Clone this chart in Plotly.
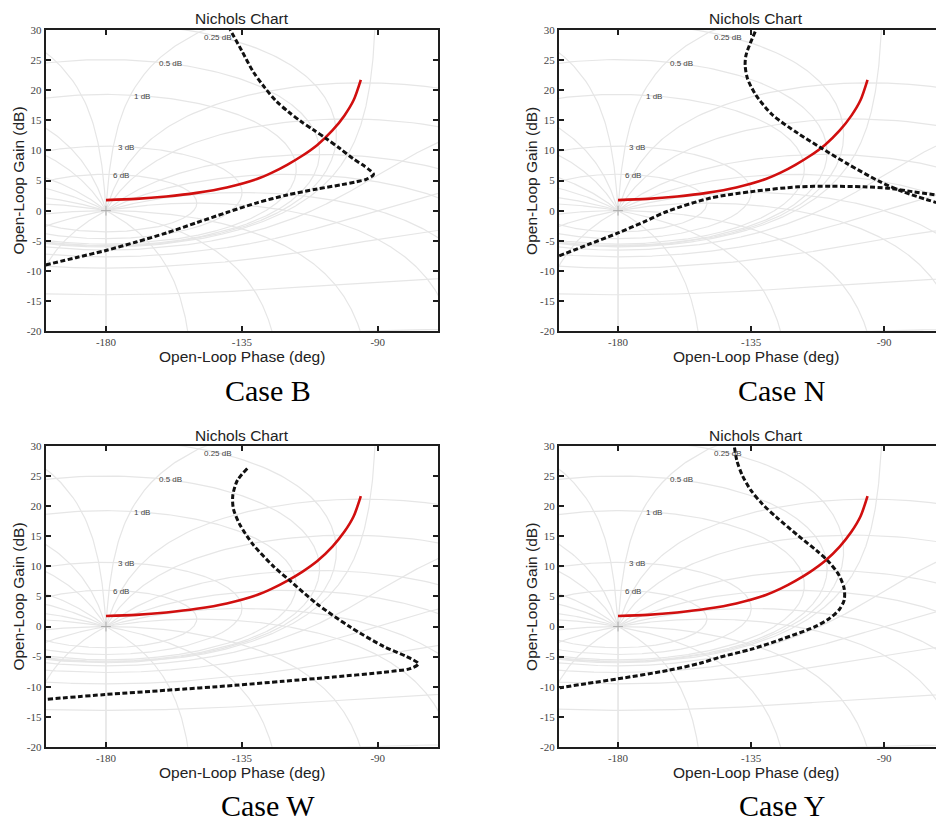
import numpy as np
import plotly.graph_objects as go

# The page body has an 8px margin: the figure is sized to fit exactly inside the window.
OFF = 8
W, H = 944 - 2 * OFF, 831 - 2 * OFF

# ---------------- data ----------------
# red curve (identical in all four panels)
red_phase = [-180, -170, -160, -150, -140, -130, -125, -120, -115, -110, -105, -101, -98, -95.6]
red_gain = [1.75, 1.95, 2.35, 2.95, 3.85, 5.25, 6.3, 7.6, 9.1, 10.9, 13.3, 15.8, 18.3, 21.7]

# black dashed curves
caseB_phase = [-200, -190, -180, -170, -160, -150, -140, -130, -120, -110, -102, -97, -93.8, -91.4,
               -92.6, -95.0, -98.1, -102.5, -106.9, -111.3, -115.7, -119.6, -123.5, -127.4, -131.2,
               -135.0, -138.9]
caseB_gain = [-9.0, -7.8, -6.6, -5.2, -3.7, -2.0, -0.3, 1.3, 2.6, 3.6, 4.3, 4.8, 5.2, 6.0,
              6.7, 7.6, 8.6, 10.3, 11.9, 13.4, 14.9, 16.4, 18.1, 20.4, 23.0,
              26.5, 30.0]

caseN_phase = [-133.6, -136.7, -137.0, -136.2, -133.4, -127.9, -119.05, -111.3, -102.5, -91.4, -83.7, -72.4,
               None,
               -199.9, -190, -180, -171, -163.2, -149.1, -135, -119.1, -108, -97, -88.1, -80.4, -72.4]
caseN_gain = [29.7, 25.8, 24.1, 21.9, 19.2, 15.95, 12.8, 10.4, 7.8, 4.8, 3.15, 1.35,
              None,
              -7.5, -5.6, -3.7, -1.8, -0.1, 2.05, 3.15, 3.95, 4.05, 3.95, 3.7, 3.15, 2.6]

caseW_phase = [-133.2, -136.5, -138.0, -137.8, -135.6, -131.2, -124.6, -119.0, -110.2, -99.2, -88.1,
               -80.4, -76.5, -79.3, -88.1, -104.7, -121.3, -137.8, -159.9, -180, -199.7]
caseW_gain = [26.3, 24.3, 21.8, 19.6, 16.9, 13.6, 10.05, 7.6, 3.8, -0.05, -3.3,
              -5.0, -6.2, -7.0, -7.6, -8.4, -9.1, -9.8, -10.6, -11.3, -12.1]

caseY_phase = [-140.6, -139.8, -138.0, -135.1, -131.2, -126.2, -119.0, -113.0, -108.6, -105.2, -103.5,
               -103.5, -105.2, -108.6, -113.5, -124.6, -135.1, -145.6, -152.2, -163.2, -180, -190.8,
               -199.7]
caseY_gain = [29.8, 27.6, 25.2, 22.7, 20.4, 18.1, 15.1, 12.7, 10.7, 8.5, 6.3,
              4.4, 2.8, 1.3, -0.05, -2.1, -3.8, -5.1, -6.1, -7.3, -8.7, -9.5,
              -10.2]

case_names = ["Case B", "Case N", "Case W", "Case Y"]

# Nichols grid definition
grid_gain_db = [6, 3, 1, 0.5, 0.25, 0, -1, -3, -6, -12, -20]
grid_phase_deg = [-1, -5, -10, -20, -30, -45, -60, -90, -120, -150, -180]
grid_labels = ["0.25 dB", "0.5 dB", "1 dB", "3 dB", "6 dB"]
grid_label_phase = [-148.3, -163.2, -171.3, -176.8, -178.4]
grid_label_gain = [28.8, 24.4, 19.0, 10.55, 5.9]

x_ticks = [-180, -135, -90]
y_ticks = [-20, -15, -10, -5, 0, 5, 10, 15, 20, 25, 30]


# ---------------- Nichols grid geometry ----------------
def _wrap(ph):
    return np.where(ph > 0, ph - 360.0, ph)


def _append(xs, ys, ph, g):
    for i in range(len(ph)):
        if i > 0 and abs(ph[i] - ph[i - 1]) > 90:
            xs.append(None)
            ys.append(None)
        xs.append(float(ph[i]))
        ys.append(float(g[i]))
    xs.append(None)
    ys.append(None)


def nichols_grid():
    xs, ys = [], []
    n = 2400
    th = -np.pi + (np.arange(n) + 0.5) * 2 * np.pi / n
    th = np.append(th, th[0])
    for gdb in grid_gain_db:
        m = 10 ** (gdb / 20.0)
        T = m * np.exp(1j * th)
        G = T / (1 - T)
        ph = _wrap(np.degrees(np.angle(G)))
        g = np.clip(20 * np.log10(np.abs(G)), -60, 60)
        _append(xs, ys, ph, g)
    mm = np.logspace(-4, 4, 1600)
    for p in grid_phase_deg:
        T = mm * np.exp(1j * np.radians(p))
        G = T / (1 - T)
        ph = _wrap(np.degrees(np.angle(G)))
        g = np.clip(20 * np.log10(np.abs(G)), -60, 60)
        _append(xs, ys, ph, g)
        _append(xs, ys, -360.0 - ph, g)
    return xs, ys


gx, gy = nichols_grid()


# ---------------- layout geometry (window pixels) ----------------
def PX(px):
    return (px - OFF) / W


def PY(py):
    return 1 - (py - OFF) / H


panels = [
    dict(x0=45.6, x1=438.1, y0=24, y1=330, xr=[-200, -70], full=True),
    dict(x0=558.9, x1=944, y0=24, y1=330, xr=[-200, -72.44], full=False),
    dict(x0=45.6, x1=438.1, y0=446.7, y1=751.7, xr=[-200, -70], full=True),
    dict(x0=558.9, x1=944, y0=446.7, y1=751.7, xr=[-200, -72.44], full=False),
]
black_curves = [(caseB_phase, caseB_gain), (caseN_phase, caseN_gain),
                (caseW_phase, caseW_gain), (caseY_phase, caseY_gain)]

fig = go.Figure()
annotations = []
frame = "#1e1e1e"
title_font = dict(family="Liberation Sans", size=15.5, color="#222")

for i, pnl in enumerate(panels):
    sfx = "" if i == 0 else str(i + 1)
    xa, ya = "x" + sfx, "y" + sfx
    # grid
    fig.add_trace(go.Scatter(x=gx, y=gy, xaxis=xa, yaxis=ya, mode="lines",
                             line=dict(color="#e6e6e6", width=1.2), hoverinfo="skip"))
    fig.add_trace(go.Scatter(x=[-180], y=[0], xaxis=xa, yaxis=ya, mode="markers",
                             marker=dict(symbol="cross-thin", size=7, line=dict(color="#aaaaaa", width=1)),
                             hoverinfo="skip"))
    # red curve
    fig.add_trace(go.Scatter(x=red_phase, y=red_gain, xaxis=xa, yaxis=ya, mode="lines",
                             line=dict(color="#d10f0f", width=2.6, shape="spline", smoothing=0.8)))
    # black dashed curve
    bp, bg = black_curves[i]
    fig.add_trace(go.Scatter(x=bp, y=bg, xaxis=xa, yaxis=ya, mode="lines", connectgaps=False,
                             line=dict(color="#111111", width=3, dash="5px,2.5px", shape="spline",
                                       smoothing=0.8)))

    common = dict(showgrid=False, zeroline=False, showline=True, linecolor=frame, linewidth=2,
                  ticks="inside", ticklen=5, tickwidth=1.5, tickcolor=frame,
                  tickfont=dict(family="Liberation Serif", size=11, color="#444"))
    fig.layout["xaxis" + sfx] = dict(
        common, domain=[PX(pnl["x0"]), min(1.0, PX(pnl["x1"]))], range=pnl["xr"], anchor=ya,
        tickvals=x_ticks, ticktext=[str(v) for v in x_ticks], mirror="ticks")
    fig.layout["yaxis" + sfx] = dict(
        common, domain=[PY(pnl["y1"]), PY(pnl["y0"])], range=[-20, 30], anchor=xa,
        tickvals=y_ticks, ticktext=[str(v) for v in y_ticks],
        mirror="ticks" if pnl["full"] else False)

    # grid labels
    for txt, lp, lg in zip(grid_labels, grid_label_phase, grid_label_gain):
        annotations.append(dict(x=lp, y=lg, xref=xa, yref=ya, text=txt, showarrow=False,
                                xanchor="left", yanchor="middle",
                                font=dict(family="Liberation Sans", size=8, color="#444")))

    cx = (pnl["x0"] + (pnl["x0"] + 393.5)) / 2
    cy = (pnl["y0"] + pnl["y1"]) / 2
    # title
    annotations.append(dict(x=PX(cx), y=PY(pnl["y0"] - 11), xref="paper", yref="paper",
                            text="Nichols Chart", showarrow=False, xanchor="center", yanchor="middle",
                            font=title_font))
    # x label
    annotations.append(dict(x=PX(cx), y=PY(pnl["y1"] + 26), xref="paper", yref="paper",
                            text="Open-Loop Phase (deg)", showarrow=False, xanchor="center",
                            yanchor="middle", font=title_font))
    # y label
    annotations.append(dict(x=PX(pnl["x0"] - 27.5), y=PY(cy), xref="paper", yref="paper",
                            text="Open-Loop Gain (dB)", showarrow=False, xanchor="center",
                            yanchor="middle", textangle=-90, font=title_font))
    # case label
    annotations.append(dict(x=PX(cx + 26), y=PY(pnl["y1"] + 60), xref="paper", yref="paper",
                            text=case_names[i], showarrow=False, xanchor="center", yanchor="middle",
                            font=dict(family="Liberation Serif", size=30, color="#000")))

fig.update_layout(width=W, height=H, margin=dict(l=0, r=0, t=0, b=0), autosize=False,
                  paper_bgcolor="white", plot_bgcolor="white", showlegend=False,
                  annotations=annotations)

fig.write_html("out.html")
